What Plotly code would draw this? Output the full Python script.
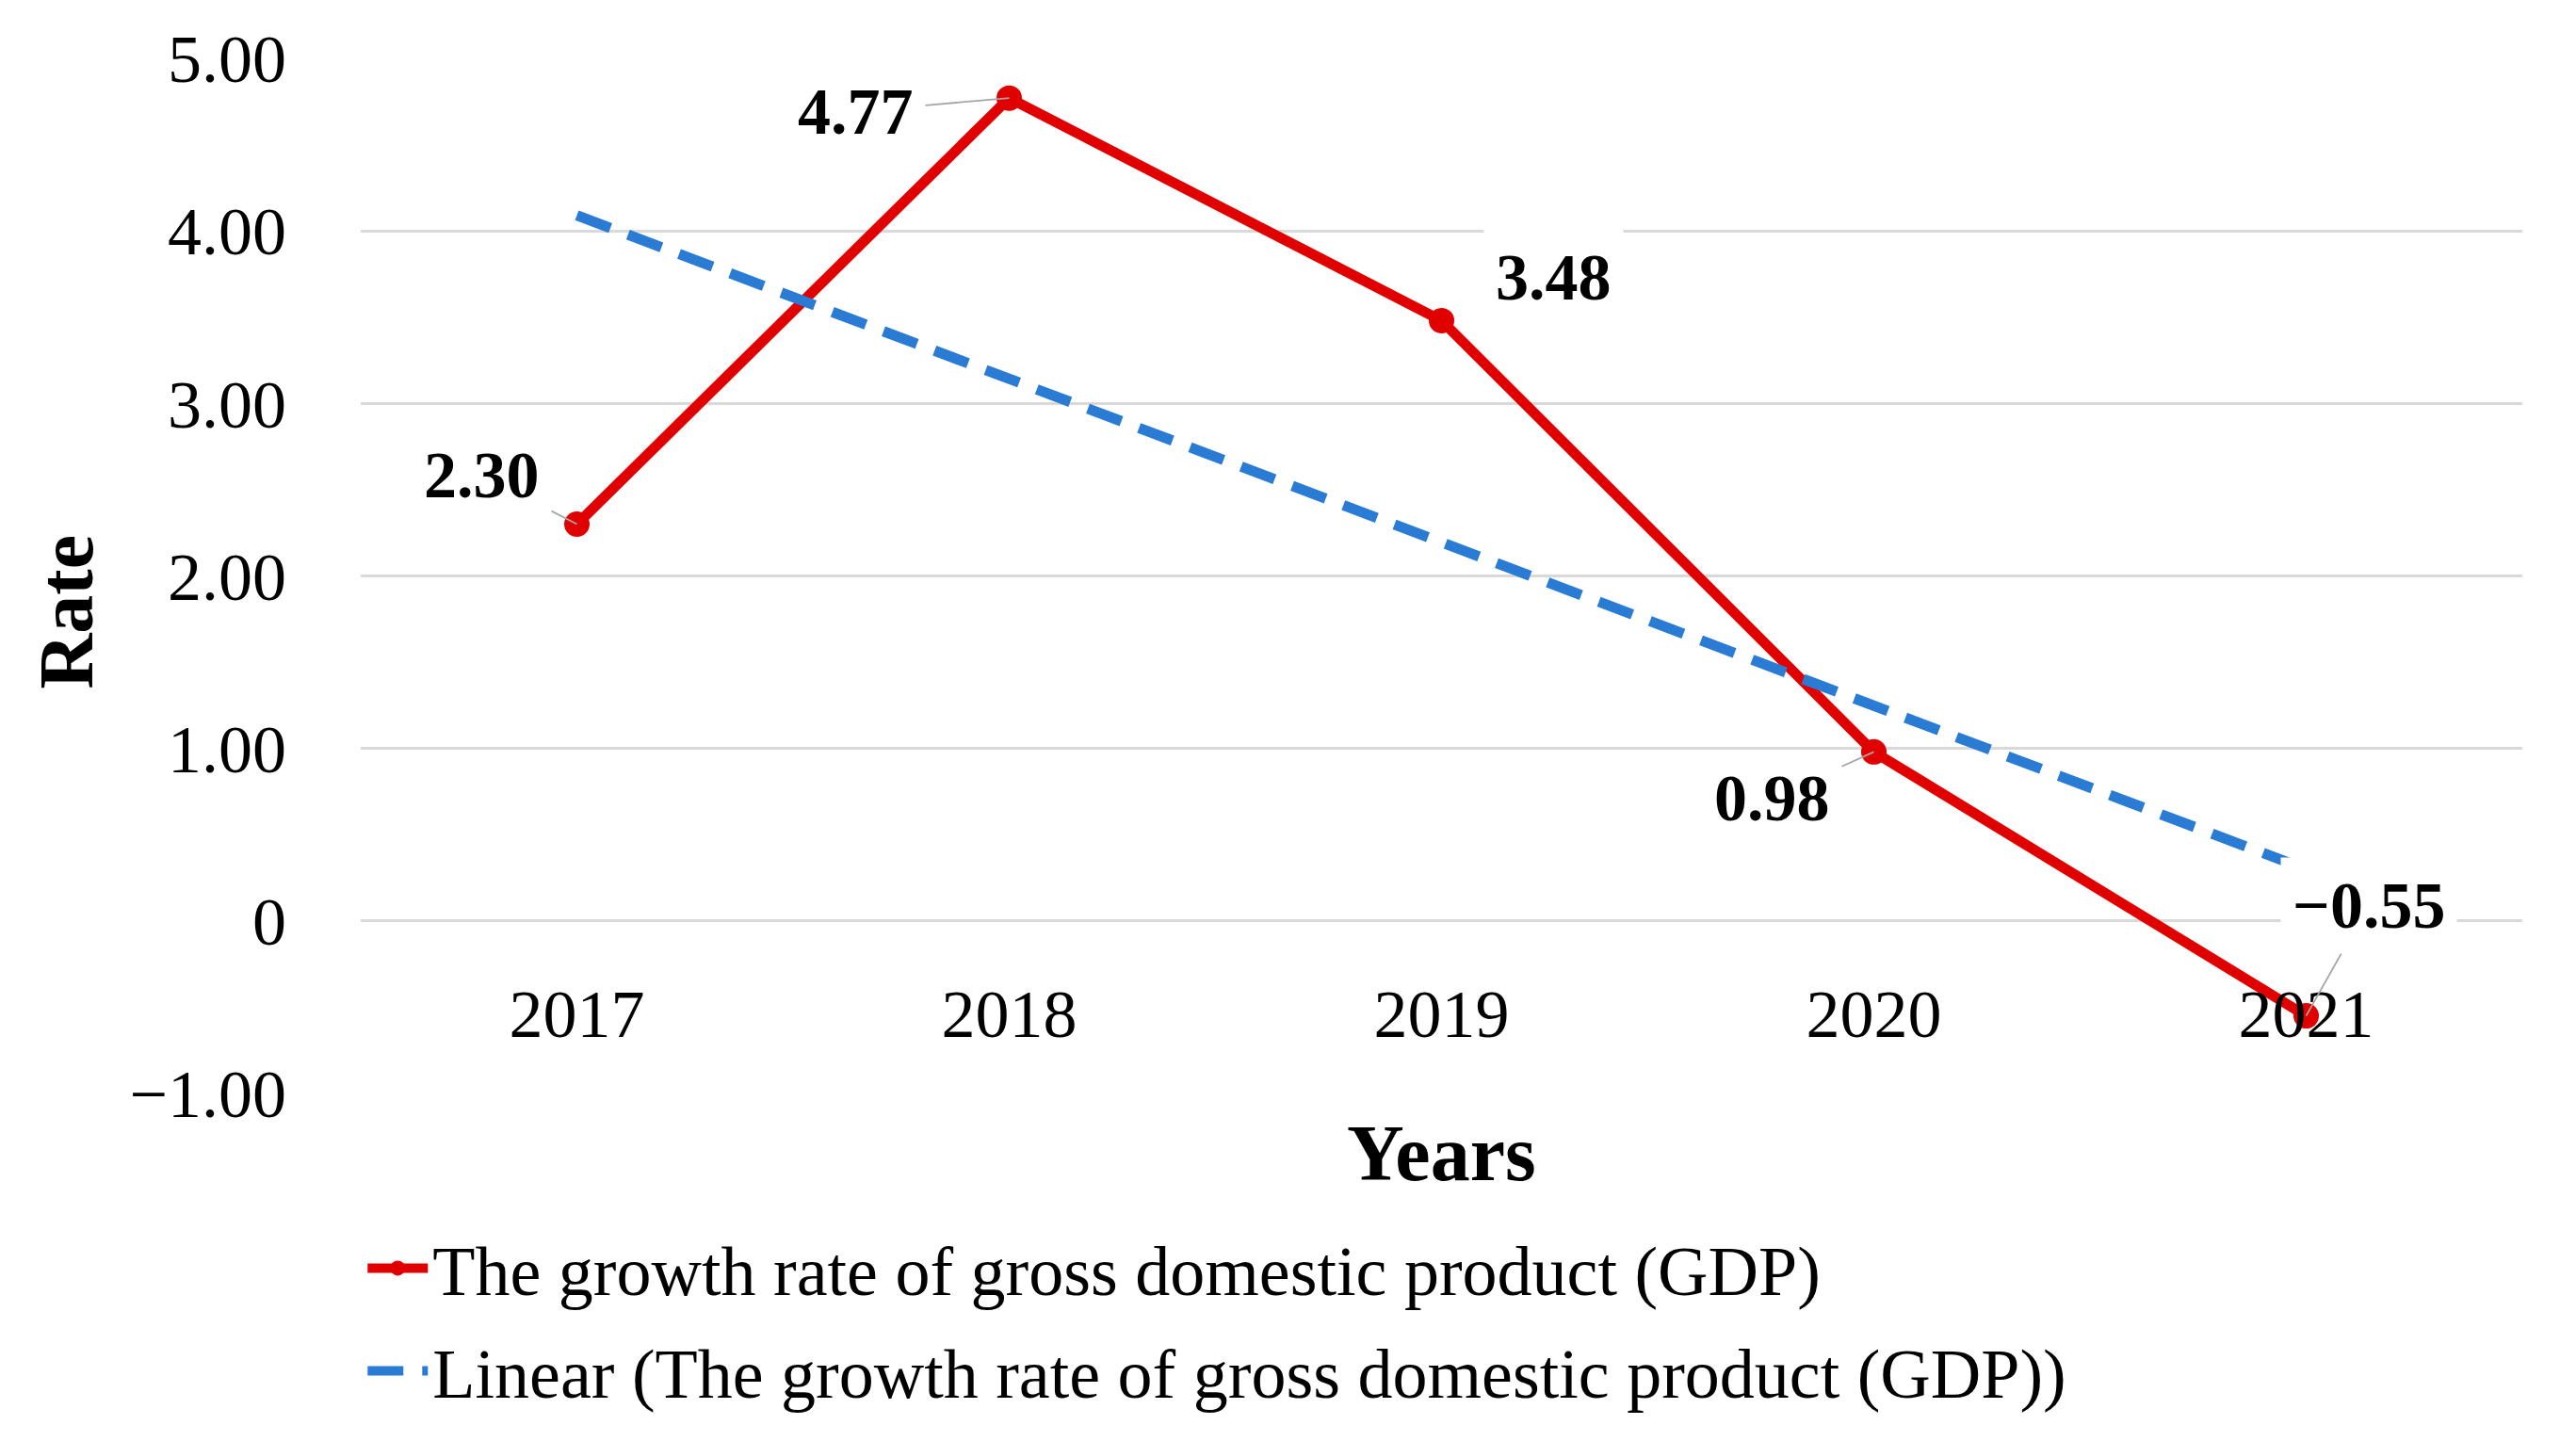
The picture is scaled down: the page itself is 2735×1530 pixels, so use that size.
import plotly.graph_objects as go

years = ["2017", "2018", "2019", "2020", "2021"]
gdp_growth = [2.30, 4.77, 3.48, 0.98, -0.55]
label_texts = ["2.30", "4.77", "3.48", "0.98", "\u22120.55"]
trend_years = ["2017", "2021"]
trend_values = [4.09, 0.30]
y_ticks = [-1, 0, 1, 2, 3, 4, 5]
y_tick_labels = ["\u22121.00", "0", "1.00", "2.00", "3.00", "4.00", "5.00"]

series_name = "The growth rate of gross domestic product (GDP)"
trend_name = "Linear (The growth rate of gross domestic product (GDP))"

FONT = "Liberation Serif"
RED = "#E00000"
BLUE = "#2A7BD3"

fig = go.Figure()
fig.add_trace(go.Scatter(
    x=years, y=gdp_growth, mode="lines+markers", name=series_name,
    line=dict(color=RED, width=11),
    marker=dict(color=RED, size=27),
    legendgroup="a",
))
fig.add_trace(go.Scatter(
    x=trend_years, y=trend_values, mode="lines", name=trend_name,
    line=dict(color=BLUE, width=11, dash="38px,20px"),
    legendgroup="b",
))

# data labels with leader lines (offsets in px)
offsets = [(-101, -52, True), (-163, 14, True), (119, -46, False), (-108, 49, True), (66, -117, True)]
for i, (val, txt, (ax, ay, lead)) in enumerate(zip(gdp_growth, label_texts, offsets)):
    fig.add_annotation(
        x=i, y=val, xref="x", yref="y", text="<b>%s</b>" % txt, showarrow=True,
        ax=ax, ay=ay, axref="pixel", ayref="pixel",
        arrowhead=0, arrowwidth=1.8, standoff=0,
        arrowcolor="#A6A6A6" if lead else "rgba(0,0,0,0)",
        font=dict(family=FONT, size=70, color="black"),
        bgcolor="white", borderpad=12,
    )

# axis titles
fig.add_annotation(xref="paper", yref="paper", x=0.5, y=-0.058, yanchor="middle",
                   text="<b>Years</b>", showarrow=False,
                   font=dict(family=FONT, size=84, color="black"))
fig.add_annotation(xref="paper", yref="paper", x=-0.136, y=0.465, xanchor="center",
                   text="<b>Rate</b>", showarrow=False, textangle=-90,
                   font=dict(family=FONT, size=82, color="black"))

fig.update_layout(
    width=2719, height=1514,
    margin=dict(l=375, r=49, t=54, b=360),
    paper_bgcolor="white", plot_bgcolor="white",
    font=dict(family=FONT, size=72, color="black"),
    showlegend=True,
    legend=dict(x=0.001, y=-0.118, xanchor="left", yanchor="top",
                orientation="v", font=dict(family=FONT, size=74),
                tracegroupgap=10, itemwidth=64, bgcolor="rgba(0,0,0,0)"),
    xaxis=dict(type="category", categoryorder="array", categoryarray=years,
               range=[-0.5, 4.5], showgrid=False, zeroline=False, showline=False,
               ticks="", anchor="free", position=1/6, ticklabelstandoff=50,
               tickfont=dict(family=FONT, size=72, color="black")),
    yaxis=dict(range=[-1, 5], tickvals=y_ticks, ticktext=y_tick_labels,
               showgrid=True, gridcolor="#D9D9D9", gridwidth=2.5,
               zeroline=False, showline=False, ticks="", ticklabelstandoff=78,
               tickfont=dict(family=FONT, size=72, color="black")),
)

fig.write_html("out.html")
